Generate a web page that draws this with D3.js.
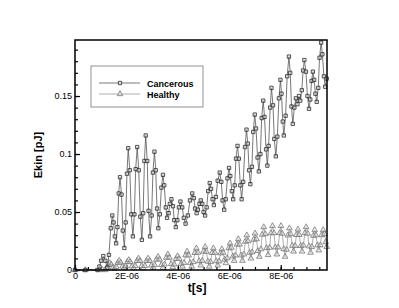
<!DOCTYPE html>
<html>
<head>
<meta charset="utf-8">
<script src="https://cdn.jsdelivr.net/npm/d3@7"></script>
<style>
  body { margin: 0; background: #fff; }
  #canvas { width: 399px; height: 308px; }
  text { font-family: "Liberation Sans", Arial, sans-serif; }
</style>
</head>
<body>
<div id="canvas" class="canvas"></div>
<script>
// time in units of 1e-7 s, energy in pJ
var cancerous = [
  [0,0],[4,0],[8.7,0],[9.5,0.003],[10.2,0.008],[11.0,0.012],[11.8,0.008],[12.6,0.002],
  [13.2,0.013],[13.9,0.036],[14.5,0.047],[15.0,0.041],[15.5,0.029],[16.0,0.023],
  [16.5,0.037],[17.0,0.066],[17.5,0.080],[18.1,0.065],[18.6,0.034],[19.2,0.019],
  [19.7,0.041],[20.2,0.083],[20.7,0.105],[21.3,0.086],[21.9,0.048],[22.5,0.029],
  [23.1,0.048],[23.6,0.087],[24.2,0.106],[24.8,0.086],[25.4,0.046],[26.0,0.026],
  [26.5,0.049],[27.0,0.094],[27.5,0.116],[28.1,0.094],[28.6,0.051],[29.2,0.029],
  [29.8,0.047],[30.3,0.084],[30.9,0.102],[31.4,0.086],[31.9,0.053],[32.4,0.036],
  [33.0,0.048],[33.6,0.071],[34.2,0.082],[34.7,0.073],[35.3,0.054],[35.8,0.045],
  [36.4,0.049],[36.9,0.057],[37.5,0.061],[38.1,0.055],[38.6,0.043],[39.2,0.037],
  [39.8,0.043],[40.4,0.054],[41.0,0.059],[41.7,0.054],[42.3,0.045],[43.0,0.040],
  [43.9,0.047],[44.7,0.060],[45.6,0.066],[46.2,0.062],[46.7,0.053],[47.3,0.049],
  [47.8,0.052],[48.4,0.057],[48.9,0.060],[49.5,0.057],[50.0,0.050],[50.6,0.047],
  [51.2,0.054],[51.8,0.068],[52.4,0.075],[52.9,0.070],[53.5,0.061],[54.0,0.056],
  [54.8,0.063],[55.5,0.077],[56.3,0.084],[56.9,0.076],[57.4,0.060],[58.0,0.052],
  [58.6,0.061],[59.3,0.079],[59.9,0.088],[60.4,0.081],[61.0,0.068],[61.5,0.061],
  [62.1,0.073],[62.6,0.096],[63.2,0.107],[63.7,0.096],[64.3,0.073],[64.8,0.061],
  [65.4,0.076],[66.1,0.106],[66.7,0.121],[67.2,0.109],[67.7,0.086],[68.2,0.074],
  [68.8,0.089],[69.3,0.119],[69.9,0.134],[70.4,0.122],[71.0,0.097],[71.5,0.085],
  [72.1,0.100],[72.6,0.131],[73.2,0.146],[73.7,0.132],[74.3,0.104],[74.8,0.090],
  [75.3,0.107],[75.9,0.140],[76.4,0.157],[77.0,0.142],[77.5,0.113],[78.1,0.098],
  [78.7,0.115],[79.3,0.148],[79.9,0.164],[80.3,0.152],[80.8,0.128],[81.2,0.116],
  [81.9,0.133],[82.5,0.167],[83.2,0.184],[83.7,0.170],[84.2,0.141],[84.7,0.126],
  [85.3,0.140],[85.9,0.148],[86.5,0.143],[87.1,0.150],[87.6,0.146],
  [88.2,0.155],[88.7,0.172],[89.2,0.181],[89.8,0.171],[90.4,0.150],[91.0,0.139],
  [91.5,0.147],[92.0,0.163],[92.5,0.171],[93.0,0.164],[93.5,0.152],[94.0,0.145],
  [94.6,0.157],[95.1,0.183],[95.7,0.196],[96.2,0.186],[96.8,0.167],[97.3,0.158],[97.9,0.165]
];

var healthy = [
  [0,0],[4,0],[9.5,0],[10.6,0.0003],[11.7,0],
  [12.3,0.0015],[12.9,0.0045],[13.5,0.006],[14.1,0.0048],[14.8,0.0022],[15.4,0.001],
  [16.0,0.0028],[16.6,0.0063],[17.2,0.008],[17.8,0.0064],[18.5,0.0031],[19.1,0.0015],
  [19.7,0.0033],[20.3,0.0069],[20.9,0.0087],[21.5,0.0069],[22.2,0.0033],[22.8,0.0015],
  [23.4,0.0036],[24.1,0.0079],[24.7,0.010],[25.3,0.0079],[25.9,0.0036],[26.6,0.0015],
  [27.2,0.0036],[27.8,0.0079],[28.4,0.010],[29.1,0.008],[29.7,0.004],[30.4,0.002],
  [31.0,0.0044],[31.7,0.0091],[32.3,0.0115],[32.9,0.0091],[33.6,0.0044],[34.2,0.002],
  [34.8,0.0049],[35.5,0.0106],[36.1,0.0135],[36.7,0.0107],[37.4,0.0052],[38.0,0.0025],
  [38.6,0.0049],[39.3,0.0096],[39.9,0.012],[40.5,0.0097],[41.2,0.0052],[41.8,0.003],
  [42.4,0.0062],[43.0,0.0127],[43.6,0.016],[44.2,0.0127],[44.8,0.0062],[45.4,0.003],
  [46.0,0.0069],[46.6,0.0148],[47.2,0.0187],[47.8,0.0150],[48.3,0.0077],[48.9,0.004],
  [49.5,0.008],[50.0,0.016],[50.6,0.020],[51.1,0.0158],[51.7,0.0073],[52.2,0.003],
  [52.7,0.0069],[53.3,0.0148],[53.8,0.0187],[54.4,0.015],[54.9,0.0077],[55.5,0.004],
  [56.0,0.0075],[56.6,0.0145],[57.1,0.018],[57.6,0.015],[58.2,0.009],[58.7,0.006],
  [59.2,0.0103],[59.8,0.0188],[60.3,0.023],[60.8,0.0193],[61.4,0.0118],[61.9,0.008],
  [62.4,0.0127],[63.0,0.022],[63.5,0.0267],[64.0,0.022],[64.6,0.0127],[65.1,0.008],
  [65.7,0.0135],[66.2,0.0245],[66.8,0.030],[67.3,0.025],[67.9,0.015],[68.4,0.010],
  [68.9,0.0154],[69.5,0.0262],[70.0,0.0316],[70.6,0.0266],[71.1,0.0165],[71.7,0.0115],
  [72.3,0.018],[72.8,0.0306],[73.4,0.037],[74.0,0.031],[74.5,0.019],[75.1,0.013],
  [75.7,0.0193],[76.2,0.0318],[76.8,0.038],[77.4,0.0319],[77.9,0.0196],[78.5,0.0135],
  [79.0,0.0196],[79.6,0.0319],[80.1,0.038],[80.6,0.0314],[81.2,0.0181],[81.7,0.0115],
  [82.3,0.0176],[82.8,0.0299],[83.4,0.036],[83.9,0.031],[84.5,0.021],[85.0,0.016],
  [85.6,0.0208],[86.1,0.0303],[86.7,0.035],[87.2,0.0303],[87.8,0.0208],[88.3,0.016],
  [88.8,0.0213],[89.4,0.0318],[89.9,0.037],[90.5,0.0315],[91.0,0.0205],[91.6,0.015],
  [92.1,0.0199],[92.7,0.0296],[93.2,0.0345],[93.7,0.030],[94.3,0.0214],[94.8,0.017],
  [95.4,0.0214],[95.9,0.0301],[96.5,0.0345],[97.0,0.031],[97.5,0.024],[97.9,0.020]
];

var seriesNames = ['Cancerous', 'Healthy'];
var xTicks = [0, 2e-6, 4e-6, 6e-6, 8e-6];
var xTickLabels = ['0', '2E-06', '4E-06', '6E-06', '8E-06'];
var yTicks = [0, 0.05, 0.1, 0.15];
var yTickLabels = ['0', '0.05', '0.1', '0.15'];

var m = {t:40,r:72,b:38,l:75};
var outerWidth = 399, outerHeight = 308;
var w = outerWidth - m.l - m.r,
    h = outerHeight - m.t - m.b;

var svg = d3.select('.canvas')
    .append('svg')
    .attr('width',outerWidth)
    .attr('height',outerHeight);
var plot = svg.append('g')
    .attr('transform','translate(' + m.l + ',' + m.t + ')');

var scaleX = d3.scaleLinear().domain([0, 9.8e-6]).range([0,w]);
var scaleY = d3.scaleLinear().domain([0, 0.1983]).range([h,0]);
var lineColors = {Cancerous:'#555', Healthy:'#9a9a9a'};
var markColors = {Cancerous:'#2a2a2a', Healthy:'#7a7a7a'};
var shapes = {Cancerous:d3.symbolSquare, Healthy:d3.symbolTriangle};
var sizes = {Cancerous:11, Healthy:14};

// minor ticks
var xMinor = d3.range(0, 9.8e-6, 5e-7);
var yMinor = d3.range(0, 0.198, 0.01);

plot.append('g')
    .attr('transform','translate(0,' + h + ')')
    .call(d3.axisBottom(scaleX).tickValues(xMinor).tickSize(-3).tickFormat(''))
    .call(g => g.select('.domain').remove());
plot.append('g')
    .call(d3.axisLeft(scaleY).tickValues(yMinor).tickSize(-3).tickFormat(''))
    .call(g => g.select('.domain').remove());

var axisX = d3.axisBottom(scaleX)
    .tickValues(xTicks)
    .tickSize(-5)
    .tickPadding(3)
    .tickFormat((d,i) => xTickLabels[i]);
var axisY = d3.axisLeft(scaleY)
    .tickValues(yTicks)
    .tickSize(-5)
    .tickPadding(3)
    .tickFormat((d,i) => yTickLabels[i]);

plot.append('g')
    .attr('class','axis')
    .attr('transform','translate(0,' + h + ')')
    .call(axisX);
plot.append('g')
    .attr('class','axis')
    .call(axisY);
plot.selectAll('.tick line').attr('stroke','#000').attr('stroke-width',1.2);
plot.selectAll('.axis .domain').remove();
plot.selectAll('.tick text')
    .attr('fill','#000')
    .style('font-size','9px')
    .style('font-family','"Liberation Sans", Arial, sans-serif');

function draw(name, rows){
    var line = d3.line()
        .x(d => scaleX(d[0]*1e-7))
        .y(d => scaleY(d[1]));
    plot.append('path')
        .datum(rows)
        .attr('d', line)
        .attr('fill','none')
        .attr('stroke', lineColors[name])
        .attr('stroke-width',0.8);
    plot.append('g').selectAll('path')
        .data(rows)
        .enter().append('path')
        .attr('transform', d => 'translate(' + scaleX(d[0]*1e-7) + ',' + scaleY(d[1]) + ')')
        .attr('d', d3.symbol().type(shapes[name]).size(sizes[name]))
        .attr('fill','#ddd')
        .attr('fill-opacity',0.5)
        .attr('stroke', markColors[name])
        .attr('stroke-width',0.8);
}

draw('Healthy', healthy);
draw('Cancerous', cancerous);

// frame
plot.append('rect')
    .attr('width',w).attr('height',h)
    .attr('fill','none')
    .attr('stroke','#000')
    .attr('stroke-width',1.5);

// legend
var legend = svg.append('g').attr('transform','translate(91,66)');
legend.append('rect')
    .attr('width',112).attr('height',41)
    .attr('fill','#fff')
    .attr('stroke','#777')
    .attr('stroke-width',0.8);
seriesNames.forEach(function(name, i){
    var y = 17 + i*11;
    legend.append('line')
        .attr('x1',8).attr('x2',49).attr('y1',y).attr('y2',y)
        .attr('stroke',lineColors[name]).attr('stroke-width',0.8);
    legend.append('path')
        .attr('transform','translate(29,' + y + ')')
        .attr('d', d3.symbol().type(shapes[name]).size(sizes[name]))
        .attr('fill','#ddd').attr('stroke',markColors[name]).attr('stroke-width',0.8);
    legend.append('text')
        .attr('x',56).attr('y',y + 3.5)
        .style('font-size','9px').style('font-weight','bold')
        .text(name);
});

// axis titles
svg.append('text')
    .attr('x', m.l + scaleX(4.75e-6)).attr('y', 292)
    .attr('text-anchor','middle')
    .style('font-size','12px').style('font-weight','bold')
    .text('t[s]');
svg.append('text')
    .attr('transform','translate(42,' + (m.t + h/2) + ') rotate(-90)')
    .attr('text-anchor','middle')
    .style('font-size','11px').style('font-weight','bold')
    .text('Ekin [pJ]');
</script>
</body>
</html>
